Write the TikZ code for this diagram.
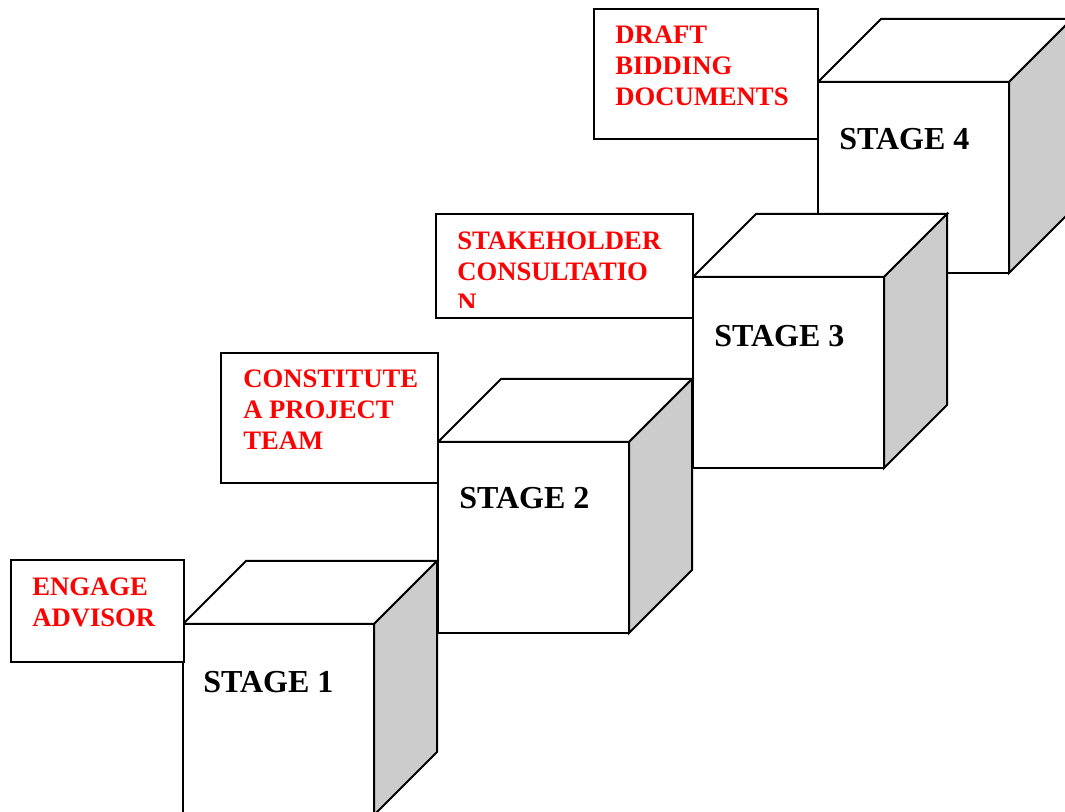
\documentclass[tikz,border=0pt]{standalone}
\usepackage{fontspec}
\setmainfont{Liberation Serif}
\definecolor{sidegray}{RGB}{204,204,204}
\tikzset{
  edge/.style={line width=1.5pt, line join=miter},
  labelbox/.style={edge, fill=white},
  % multi-line labels are placed by the baseline of their last line
  steptext/.style={inner sep=0pt, anchor=base west, align=left, text=red,
    font=\bfseries\fontsize{20}{23.25}\selectfont},
  stagetext/.style={inner sep=0pt, anchor=base west, text=black,
    font=\bfseries\fontsize{24}{28}\selectfont},
  stagecube/.pic={
    % front face
    \draw[edge, fill=white] (0,0) rectangle (191,191);
    % top face
    \draw[edge, fill=white] (0,0) -- (63,-63) -- (254,-63) -- (191,0) -- cycle;
    % shaded right face
    \draw[edge, fill=sidegray] (191,0) -- (254,-63) -- (254,128) -- (191,191) -- cycle;
  }
}
\begin{document}
\begin{tikzpicture}[x=0.75pt, y=-0.75pt]
\useasboundingbox (0,0) rectangle (1065,812);
\clip (0,0) rectangle (1065,812);

% stair of cubes, back to front
\pic at (818,82)  {stagecube};
\pic at (693,277) {stagecube};
\pic at (438,442) {stagecube};
\pic at (183,624) {stagecube};

\node[stagetext] (s4) at (839,150) {STAGE 4};
\node[stagetext] (s3) at (714,347) {STAGE 3};
\node[stagetext] (s2) at (459,509) {STAGE 2};
\node[stagetext] (s1) at (203,693) {STAGE 1};

% activity boxes
\draw[labelbox] (594,9)   rectangle (818,139);
\draw[labelbox] (436,214) rectangle (693,318);
\draw[labelbox] (221,353) rectangle (438,483);
\draw[labelbox] (11,560)  rectangle (184,662);

\node[steptext] (t4) at (615,106) {DRAFT\\BIDDING\\DOCUMENTS};
\begin{scope}
  \clip (436,214) rectangle (693,308);
  \node[steptext] (t3) at (457,312) {STAKEHOLDER\\CONSULTATIO\\N};
\end{scope}
\node[steptext] (t2) at (243,450) {CONSTITUTE\\A PROJECT\\TEAM};
\node[steptext] (t1) at (32,627) {ENGAGE\\ADVISOR};
\end{tikzpicture}
\end{document}
